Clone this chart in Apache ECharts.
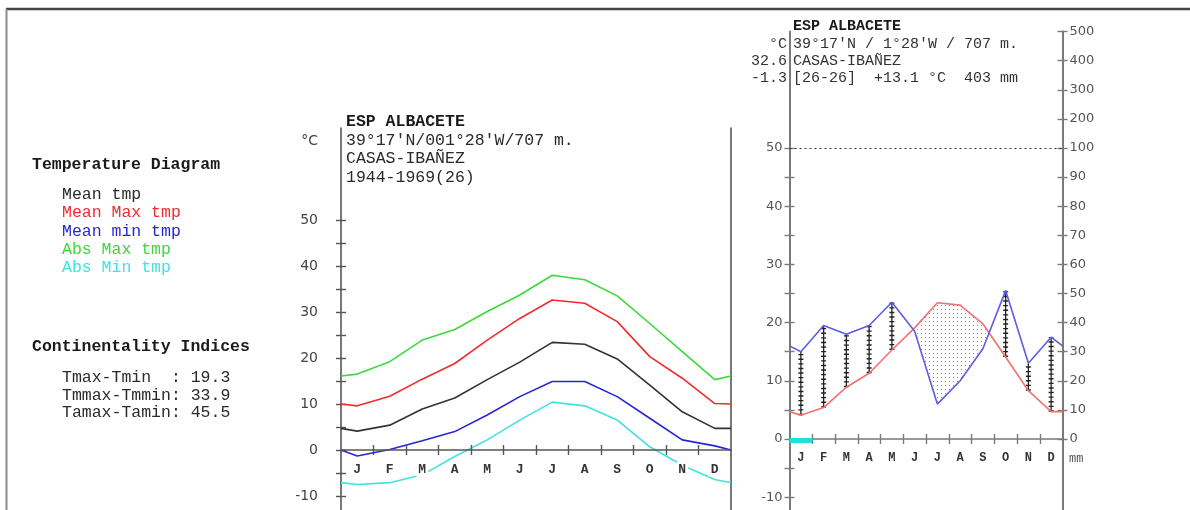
<!DOCTYPE html>
<html>
<head>
<meta charset="utf-8">
<script src="https://cdn.jsdelivr.net/npm/echarts@6/dist/echarts.min.js"></script>
<style>html,body{margin:0;padding:0;background:#fff}#c{width:1190px;height:510px}</style>
</head>
<body>
<div id="c"></div>
<script>
// ---------------- data ----------------
const months   = ['J','F','M','A','M','J','J','A','S','O','N','D'];
const meanTemp = [4.1, 5.4, 8.9, 11.3, 15.3, 19.1, 23.4, 23.0, 19.8, 14.1, 8.3, 4.7];
const meanMax  = [9.6, 11.7, 15.4, 18.8, 23.9, 28.6, 32.6, 31.9, 27.9, 20.3, 15.6, 10.1];
const meanMin  = [-1.3, 0.1, 2.0, 4.0, 7.6, 11.6, 14.9, 14.9, 11.6, 6.9, 2.2, 0.9];
const absMax   = [16.5, 19.2, 23.9, 26.2, 30.1, 33.7, 38.0, 37.0, 33.5, 27.5, 21.4, 15.3];
const absMin   = [-7.5, -7.1, -5.4, -1.4, 2.2, 6.5, 10.4, 9.6, 6.5, 0.7, -3.3, -6.4];
const precip   = [30, 39, 36, 39, 47, 37, 12, 20, 31, 51, 26, 35];
// values drawn at the year edges (start of Jan / end of Dec)
const edgeMeanTemp = 4.7, edgeMeanMax = 10.0, edgeMeanMin = 0.0;
const edgeAbsMax = 16.1, edgeAbsMin = -7.1, edgePrecip = 32;
// axis ticks and labels
const tempTicks   = [-20,-15,-10,-5,0,5,10,15,20,25,30,35,40,45,50];
const tempLabels  = [-10,0,10,20,30,40,50];
const mmAxisValues = [0,10,20,30,40,50,60,70,80,90,100,110,120,130,140];
const mmAxisLabels = ['0','10','20','30','40','50','60','70','80','90','100','200','300','400','500'];
const MM_PER_DEG = 2;
const stationTitle = 'ESP ALBACETE';
const stationName = 'CASAS-IBAÑEZ';

// ---------------- helpers ----------------
const FONT_MONO = '"Liberation Mono", "DejaVu Sans Mono", monospace';
const FONT_SANS = '"DejaVu Sans", Verdana, sans-serif';
const AX1 = '#555', AX2 = '#7a7a7a';
const C_BLACK = '#333333', C_RED = '#f02c2c', C_BLUE = '#2626d8', C_GREEN = '#3cd83c', C_CYAN = '#40e2e2';

const centers = months.map((m, i) => i + 0.5);
const boundaries = months.slice(1).map((m, i) => i + 1);
const lineData = (vals, edge) => [[0, edge]].concat(vals.map((v, i) => [i + 0.5, v]), [[12, edge]]);

const sum = a => a.reduce((s, v) => s + v, 0);
const annualMean = sum(meanTemp) / 12;
const annualPrecip = Math.round(sum(precip));
const maxMeanMax = Math.max(...meanMax);
const minMeanMin = Math.min(...meanMin);

// arid polygons (temperature above precipitation curve)
const xsAll = [0].concat(centers, [12]);
const Tall = [edgeMeanTemp].concat(meanTemp, [edgeMeanTemp]);
const Pall = [edgePrecip].concat(precip, [edgePrecip]).map(p => p / MM_PER_DEG);
function aridPolygons() {
  const polys = []; let cur = null;
  for (let i = 0; i < xsAll.length; i++) {
    const d = Tall[i] - Pall[i];
    if (i > 0) {
      const dp = Tall[i - 1] - Pall[i - 1];
      if ((dp > 0) !== (d > 0)) {
        const f = dp / (dp - d);
        const cx = xsAll[i - 1] + f * (xsAll[i] - xsAll[i - 1]);
        const cy = Tall[i - 1] + f * (Tall[i] - Tall[i - 1]);
        if (cur) { cur.top.push([cx, cy]); cur.bot.push([cx, cy]); polys.push(cur); cur = null; }
        else { cur = { top: [[cx, cy]], bot: [[cx, cy]] }; }
      }
    }
    if (d > 0) {
      if (!cur) cur = { top: [], bot: [] };
      cur.top.push([xsAll[i], Tall[i]]); cur.bot.push([xsAll[i], Pall[i]]);
    }
  }
  if (cur) polys.push(cur);
  return polys.map(p => p.top.concat(p.bot.slice().reverse()));
}
const aridPolys = aridPolygons();
const humidData = months.map((m, i) => [i + 0.5, meanTemp[i], precip[i] / MM_PER_DEG])
  .filter(d => d[2] > d[1]);
const frostData = meanMin.map((v, i) => v < 0 ? [i, i + 1] : null).filter(Boolean);

const dotCanvas = document.createElement('canvas');
dotCanvas.width = 4; dotCanvas.height = 4;
const dctx = dotCanvas.getContext('2d');
dctx.fillStyle = '#8a8a8a'; dctx.fillRect(1, 1, 1, 1);

// ---------------- axes ----------------
// the month axis lives in a holder grid whose bottom edge is the 0 °C level
function xMain(grid, color, margin, fontSize, bg) {
  return {
    gridIndex: grid, type: 'value', min: 0, max: 12, position: 'bottom', z: 5,
    axisLine: { show: true, onZero: false, lineStyle: { color: color, width: 1.6 } },
    axisTick: { show: true, inside: true, length: 5, customValues: boundaries, lineStyle: { color: color, width: 1.4 } },
    axisLabel: { show: true, customValues: centers, formatter: v => months[Math.floor(+v)], margin: margin,
      fontFamily: FONT_MONO, fontSize: fontSize, fontWeight: 'bold', color: '#333',
      backgroundColor: bg ? '#fff' : 'transparent', padding: bg ? [1, 2] : 0 },
    splitLine: { show: false }
  };
}
function xOut(grid, color) {
  return {
    gridIndex: grid, type: 'value', min: 0, max: 12, position: 'bottom',
    axisLine: { show: false, onZero: false },
    axisTick: { show: true, inside: false, length: 5, customValues: boundaries, lineStyle: { color: color, width: 1.4 } },
    axisLabel: { show: false }, splitLine: { show: false }
  };
}
function xHidden(grid) {
  return { gridIndex: grid, type: 'value', min: 0, max: 12, show: false, splitLine: { show: false } };
}
function yAx(grid, opts) {
  return Object.assign({ gridIndex: grid, type: 'value', splitLine: { show: false } }, opts);
}

const option = {
  animation: false,
  backgroundColor: '#fff',
  grid: [
    { left: 341, top: 128, width: 390, height: 414, outerBoundsMode: 'none' },   // 0 middle data
    { left: 789.5, top: 31.6, width: 273, height: 523.8, outerBoundsMode: 'none' }, // 1 right data
    { left: 341, top: 128, width: 390, height: 322, outerBoundsMode: 'none' },   // 2 middle month axis
    { left: 789.5, top: 31.6, width: 273, height: 407.4, outerBoundsMode: 'none' }  // 3 right month axis
  ],
  xAxis: [
    xHidden(0),                       // 0
    xHidden(1),                       // 1
    xMain(2, AX1, 12, 13, true),      // 2
    xOut(2, AX1),                     // 3
    xMain(3, AX2, 13, 12, false),     // 4
    xOut(3, AX2)                      // 5
  ],
  yAxis: [
    // 0: middle chart temperature axis
    yAx(0, { min: -20, max: 70, position: 'left',
      axisLine: { show: true, onZero: false, lineStyle: { color: AX1, width: 1.6 } },
      axisTick: { show: true, inside: true, length: 5, customValues: tempTicks, lineStyle: { color: AX1, width: 1.4 } },
      axisLabel: { show: true, customValues: tempLabels, margin: 23, fontFamily: FONT_SANS, fontSize: 14, color: '#444' } }),
    // 1: outward ticks
    yAx(0, { min: -20, max: 70, position: 'left',
      axisLine: { show: false, onZero: false },
      axisTick: { show: true, inside: false, length: 5, customValues: tempTicks, lineStyle: { color: AX1, width: 1.4 } },
      axisLabel: { show: false } }),
    // 2: right border line
    yAx(0, { min: -20, max: 70, position: 'right',
      axisLine: { show: true, onZero: false, lineStyle: { color: AX1, width: 1.6 } },
      axisTick: { show: false }, axisLabel: { show: false } }),
    // 3: right chart temperature axis
    yAx(1, { min: -20, max: 70, position: 'left',
      axisLine: { show: true, onZero: false, lineStyle: { color: AX2, width: 2 } },
      axisTick: { show: true, inside: true, length: 5, customValues: tempTicks, lineStyle: { color: AX2, width: 1.4 } },
      axisLabel: { show: true, customValues: tempLabels, margin: 7, fontFamily: FONT_SANS, fontSize: 13, color: '#555' } }),
    // 4: outward ticks
    yAx(1, { min: -20, max: 70, position: 'left',
      axisLine: { show: false, onZero: false },
      axisTick: { show: true, inside: false, length: 5, customValues: tempTicks, lineStyle: { color: AX2, width: 1.4 } },
      axisLabel: { show: false } }),
    // 5: precipitation axis (mm)
    yAx(1, { min: -20 * MM_PER_DEG, max: 70 * MM_PER_DEG, position: 'right',
      axisLine: { show: true, onZero: false, lineStyle: { color: AX2, width: 2 } },
      axisTick: { show: true, inside: true, length: 5, customValues: mmAxisValues, lineStyle: { color: AX2, width: 1.4 } },
      axisLabel: { show: true, customValues: mmAxisValues, formatter: v => mmAxisLabels[mmAxisValues.indexOf(+v)],
        margin: 7, fontFamily: FONT_SANS, fontSize: 13, color: '#555' } }),
    // 6: outward ticks
    yAx(1, { min: -20 * MM_PER_DEG, max: 70 * MM_PER_DEG, position: 'right',
      axisLine: { show: false, onZero: false },
      axisTick: { show: true, inside: false, length: 5, customValues: mmAxisValues, lineStyle: { color: AX2, width: 1.4 } },
      axisLabel: { show: false } }),
    // 7, 8: hidden companions of the month-axis grids
    yAx(2, { min: 0, max: 1, show: false }),
    yAx(3, { min: 0, max: 1, show: false })
  ],
  series: [
    { type: 'line', xAxisIndex: 0, yAxisIndex: 0, data: lineData(absMax, edgeAbsMax), symbol: 'none', lineStyle: { color: C_GREEN, width: 1.6 }, z: 2 },
    { type: 'line', xAxisIndex: 0, yAxisIndex: 0, data: lineData(meanMax, edgeMeanMax), symbol: 'none', lineStyle: { color: C_RED, width: 1.6 }, z: 2 },
    { type: 'line', xAxisIndex: 0, yAxisIndex: 0, data: lineData(meanTemp, edgeMeanTemp), symbol: 'none', lineStyle: { color: C_BLACK, width: 1.6 }, z: 2 },
    { type: 'line', xAxisIndex: 0, yAxisIndex: 0, data: lineData(meanMin, edgeMeanMin), symbol: 'none', lineStyle: { color: C_BLUE, width: 1.6 }, z: 2 },
    { type: 'line', xAxisIndex: 0, yAxisIndex: 0, data: lineData(absMin, edgeAbsMin), symbol: 'none', lineStyle: { color: C_CYAN, width: 1.6 }, z: 2 },
    // right chart: arid stipple
    { type: 'custom', xAxisIndex: 1, yAxisIndex: 3, data: [[0, 0]], silent: true, z: 1,
      renderItem: (params, api) => ({
        type: 'group',
        children: aridPolys.map(poly => ({
          type: 'polygon', shape: { points: poly.map(p => api.coord(p)) },
          style: { fill: { image: dotCanvas, repeat: 'repeat' }, stroke: null }
        }))
      }) },
    // right chart: humid vertical lines
    { type: 'custom', xAxisIndex: 1, yAxisIndex: 3, data: humidData, silent: true, z: 3,
      renderItem: (params, api) => {
        const a = api.coord([api.value(0), api.value(1)]);
        const b = api.coord([api.value(0), api.value(2)]);
        return { type: 'group', children: [
          { type: 'line', shape: { x1: a[0], y1: a[1], x2: b[0], y2: b[1] }, style: { stroke: '#222', lineWidth: 1.3 } },
          { type: 'line', shape: { x1: a[0], y1: a[1], x2: b[0], y2: b[1] }, style: { stroke: '#222', lineWidth: 5, lineDash: [1.4, 3.2] } }
        ] };
      } },
    // right chart: mean temperature
    { type: 'line', xAxisIndex: 1, yAxisIndex: 3, data: lineData(meanTemp, edgeMeanTemp), symbol: 'none',
      lineStyle: { color: '#f07272', width: 1.6 }, z: 4,
      markLine: { silent: true, symbol: ['none', 'none'], label: { show: false },
        lineStyle: { type: [2, 3], color: '#333', width: 1.2 }, data: [{ yAxis: 50 }] } },
    // right chart: precipitation
    { type: 'line', xAxisIndex: 1, yAxisIndex: 5, data: lineData(precip, edgePrecip), symbol: 'none',
      lineStyle: { color: '#5c5ce6', width: 1.6 }, z: 4 },
    // right chart: frost months
    { type: 'custom', xAxisIndex: 1, yAxisIndex: 3, data: frostData, silent: true, z: 6,
      renderItem: (params, api) => {
        const a = api.coord([api.value(0), 0]);
        const b = api.coord([api.value(1), 0]);
        return { type: 'rect', shape: { x: a[0], y: a[1] - 1, width: b[0] - a[0], height: 5 }, style: { fill: '#1ee0e0' } };
      } }
  ],
  graphic: []
};

function txt(x, y, text, font, fill, align) {
  return { type: 'text', x: x, y: y, silent: true,
    style: { text: text, font: font, fill: fill || '#333', align: align || 'left', verticalAlign: 'middle',
      textAlign: align || 'left', textVerticalAlign: 'middle' } };
}
const F16 = '16.5px ' + FONT_MONO, F16B = 'bold 16.5px ' + FONT_MONO;
const F15 = '15px ' + FONT_MONO, F15B = 'bold 15px ' + FONT_MONO;
const g = option.graphic;
// frame
g.push({ type: 'line', shape: { x1: 6, y1: 9, x2: 1190, y2: 9 }, style: { stroke: '#444', lineWidth: 2.4 }, silent: true });
g.push({ type: 'line', shape: { x1: 6.5, y1: 9, x2: 6.5, y2: 510 }, style: { stroke: '#8c8c8c', lineWidth: 2 }, silent: true });
// left panel
g.push(txt(32, 165, 'Temperature Diagram', F16B, '#1a1a1a'));
g.push(txt(62, 195, 'Mean tmp', F16, '#2a2a2a'));
g.push(txt(62, 213, 'Mean Max tmp', F16, C_RED));
g.push(txt(62, 232, 'Mean min tmp', F16, C_BLUE));
g.push(txt(62, 250, 'Abs Max tmp', F16, C_GREEN));
g.push(txt(62, 268, 'Abs Min tmp', F16, C_CYAN));
g.push(txt(32, 347, 'Continentality Indices', F16B, '#1a1a1a'));
const maxMean = Math.max(...meanTemp), minMean = Math.min(...meanTemp);
g.push(txt(62, 378, 'Tmax-Tmin  : ' + (maxMean - minMean).toFixed(1), F16, '#2a2a2a'));
g.push(txt(62, 396, 'Tmmax-Tmmin: ' + (maxMeanMax - minMeanMin).toFixed(1), F16, '#2a2a2a'));
g.push(txt(62, 413, 'Tamax-Tamin: ' + (Math.max(...absMax) - Math.min(...absMin)).toFixed(1), F16, '#2a2a2a'));
// middle header
g.push(txt(346, 122, stationTitle, F16B, '#1a1a1a'));
g.push(txt(318, 141, '°C', '14px ' + FONT_SANS, '#444', 'right'));
g.push(txt(346, 141, "39°17'N/001°28'W/707 m.", F16, '#2a2a2a'));
g.push(txt(346, 159, stationName, F16, '#2a2a2a'));
g.push(txt(346, 178, '1944-1969(26)', F16, '#2a2a2a'));
// right header
g.push(txt(793, 26, stationTitle, F15B, '#1a1a1a'));
g.push(txt(787, 44, '°C', F15, '#333', 'right'));
g.push(txt(793, 44, "39°17'N / 1°28'W / 707 m.", F15, '#333'));
g.push(txt(787, 61, maxMeanMax.toFixed(1), F15, '#333', 'right'));
g.push(txt(793, 61, stationName, F15, '#333'));
g.push(txt(787, 78, minMeanMin.toFixed(1), F15, '#333', 'right'));
g.push(txt(793, 78, '[26-26]  +' + annualMean.toFixed(1) + ' °C  ' + annualPrecip + ' mm', F15, '#333'));
g.push(txt(1069, 459, 'mm', '12px ' + FONT_MONO, '#555'));

const chart = echarts.init(document.getElementById('c'), null, { renderer: 'canvas' });
chart.setOption(option);
</script>
</body>
</html>
